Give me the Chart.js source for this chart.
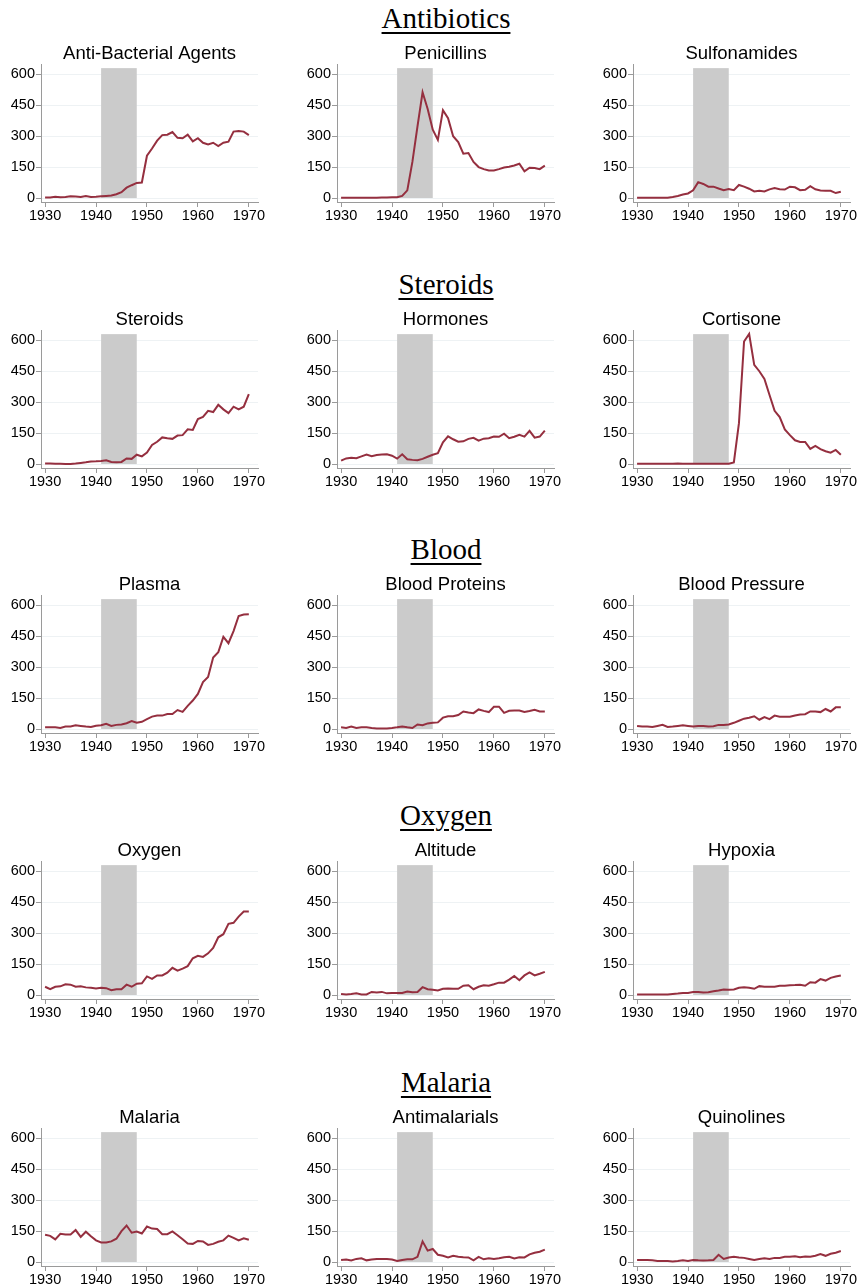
<!DOCTYPE html>
<html>
<head>
<meta charset="utf-8">
<script src="https://cdn.jsdelivr.net/npm/chart.js@4/dist/chart.umd.min.js"></script>
<style>
  html, body { margin: 0; padding: 0; background: #fff; }
  #page { position: relative; width: 859px; height: 1287px; overflow: hidden; }
  .section {
    position: absolute; left: 246px; width: 400px; text-align: center;
    font-family: "Liberation Serif", "Times New Roman", serif;
    font-size: 29px; line-height: 32px; color: #000;
  }
  .section span { text-decoration: underline; text-decoration-thickness: 1.5px; text-underline-offset: 4px; }
  canvas { position: absolute; }
</style>
</head>
<body>
<div id="page"></div>
<script>
// Publication counts per year, 1930–1970
const years = [1930,1931,1932,1933,1934,1935,1936,1937,1938,1939,1940,
               1941,1942,1943,1944,1945,1946,1947,1948,1949,1950,
               1951,1952,1953,1954,1955,1956,1957,1958,1959,1960,
               1961,1962,1963,1964,1965,1966,1967,1968,1969,1970];

const antiBacterial = [3,3,6,4,5,8,7,5,10,5,6, 8,10,12,18,28,50,62,73,75,205, 240,278,305,307,320,292,290,307,275,290, 268,260,268,252,268,273,322,325,322,305];
const penicillins   = [1,1,1,1,1,1,1,1,2,2,4, 4,10,37,175,347,513,432,331,282,426, 387,300,271,215,218,175,150,140,133,133, 140,148,152,158,166,129,147,145,140,157];
const sulfonamides  = [1,1,1,1,1,1,1,5,10,17,22, 37,77,68,55,55,46,38,43,38,63, 55,45,32,35,32,42,48,43,41,55, 52,38,40,57,42,36,35,35,24,30];

const steroids      = [2,2,1,1,0,0,2,5,8,12,13, 15,18,10,8,10,27,25,45,37,55, 92,108,129,125,122,138,140,168,165,218, 228,258,252,287,265,247,278,265,278,339];
const hormones      = [16,27,30,28,37,46,38,44,46,47,40, 26,47,23,20,18,25,35,45,52,105, 134,120,108,110,122,127,113,123,125,133, 132,147,125,132,142,133,161,128,133,162];
const cortisone     = [1,1,1,1,1,1,1,1,2,1,1, 1,1,1,1,1,1,1,1,8,198, 594,631,481,450,413,335,258,228,168,140, 115,107,107,73,88,72,62,55,68,45];

const plasma        = [8,8,8,5,12,12,18,15,12,10,16, 18,25,15,20,22,28,38,30,35,48, 60,65,65,73,73,92,83,112,138,170, 228,252,347,372,447,416,475,548,555,557];
const bloodProteins = [8,5,12,5,8,8,5,3,3,3,5, 8,12,8,5,22,18,27,30,32,55, 62,62,68,85,80,77,95,88,82,108, 108,78,88,90,90,83,87,93,85,85];
const bloodPressure = [15,12,12,10,15,20,10,12,15,18,15, 12,15,15,12,13,20,20,22,30,40, 50,55,62,45,58,48,65,60,60,60, 65,70,72,85,85,82,97,85,105,105];

const oxygen        = [40,28,40,42,52,50,40,42,37,35,32, 35,33,23,28,28,50,40,55,57,90, 78,95,95,108,132,118,128,140,178,190, 185,202,228,280,295,345,350,380,405,405];
const altitude      = [5,3,5,8,3,3,15,12,15,8,10, 10,10,17,13,15,38,28,25,22,30, 32,30,30,45,47,28,40,47,45,52, 60,60,75,92,72,95,110,95,103,112];
const hypoxia       = [2,2,3,2,2,2,3,5,7,10,10, 15,15,12,13,18,22,27,25,27,35, 38,35,30,43,40,40,40,45,45,47, 48,50,45,62,60,77,70,83,90,95];

const malaria       = [132,127,110,137,133,133,155,122,147,125,105, 95,95,100,113,150,177,142,148,138,172, 162,160,135,135,148,130,110,90,88,102, 100,83,88,98,105,128,117,105,115,108];
const antimalarials = [10,12,7,15,18,8,12,15,15,15,12, 5,10,13,13,25,100,55,63,35,30, 22,30,25,23,22,8,25,13,18,15, 18,23,25,17,23,22,37,45,50,60];
const quinolines    = [10,10,10,8,5,5,5,3,5,8,5, 10,8,7,8,10,35,15,22,25,22, 20,15,10,15,18,15,20,20,25,25, 28,23,27,25,30,38,30,40,45,53];

const sectionTitles = ['Antibiotics', 'Steroids', 'Blood', 'Oxygen', 'Malaria'];
const panelTitles = [
  ['Anti-Bacterial Agents', 'Penicillins', 'Sulfonamides'],
  ['Steroids', 'Hormones', 'Cortisone'],
  ['Plasma', 'Blood Proteins', 'Blood Pressure'],
  ['Oxygen', 'Altitude', 'Hypoxia'],
  ['Malaria', 'Antimalarials', 'Quinolines']
];
const panelSeries = [
  [antiBacterial, penicillins, sulfonamides],
  [steroids, hormones, cortisone],
  [plasma, bloodProteins, bloodPressure],
  [oxygen, altitude, hypoxia],
  [malaria, antimalarials, quinolines]
];

const xTicks = [1930, 1940, 1950, 1960, 1970];
const yTicks = [0, 150, 300, 450, 600];

// War-years shaded band
const BAND_START = 1941, BAND_END = 1948, BAND_TOP = 630;

// Page layout
const ROW_TOP = [0, 266, 531, 797, 1064];
const COL_LEFT = [0, 296, 592];
const CANVAS_W = 270, CANVAS_H = 195;
const TITLE_SPACE = 34;
const LINE_COLOR = '#952f3f';
const AXIS_COLOR = '#9a9a9a';
const GRID_COLOR = '#eef2f4';
const SANS = '"Liberation Sans", Arial, sans-serif';

const bandPlugin = {
  id: 'warBand',
  beforeDatasetsDraw(chart) {
    const { ctx, scales: { x, y } } = chart;
    const x0 = x.getPixelForValue(BAND_START);
    const x1 = x.getPixelForValue(BAND_END);
    const yBase = y.getPixelForValue(0);
    const yTop = y.getPixelForValue(BAND_TOP);
    ctx.save();
    ctx.fillStyle = '#cbcbcb';
    ctx.fillRect(x0, yTop, x1 - x0, yBase - yTop);
    ctx.restore();
  }
};

// Panel title centred over the plot area (not the whole canvas)
const panelTitlePlugin = {
  id: 'panelTitle',
  afterDraw(chart, args, opts) {
    const { ctx, chartArea } = chart;
    ctx.save();
    ctx.fillStyle = '#000';
    ctx.font = '18.5px ' + SANS;
    ctx.textAlign = 'center';
    ctx.textBaseline = 'middle';
    ctx.fillText(opts.text, (chartArea.left + chartArea.right) / 2, 23.5);
    ctx.restore();
  }
};

const page = document.getElementById('page');

sectionTitles.forEach((name, r) => {
  const d = document.createElement('div');
  d.className = 'section';
  d.style.top = (ROW_TOP[r] + 2) + 'px';
  const s = document.createElement('span');
  s.textContent = name;
  d.appendChild(s);
  page.appendChild(d);
});

panelTitles.forEach((row, r) => {
  row.forEach((title, c) => {
    const cv = document.createElement('canvas');
    cv.width = CANVAS_W; cv.height = CANVAS_H;
    cv.style.width = CANVAS_W + 'px'; cv.style.height = CANVAS_H + 'px';
    cv.style.left = COL_LEFT[c] + 'px';
    cv.style.top = (ROW_TOP[r] + 30) + 'px';
    page.appendChild(cv);

    const values = panelSeries[r][c];
    new Chart(cv, {
      type: 'line',
      data: {
        datasets: [{
          data: years.map((yr, i) => ({ x: yr, y: values[i] })),
          borderColor: LINE_COLOR,
          borderWidth: 2,
          pointRadius: 0,
          tension: 0,
          fill: false
        }]
      },
      options: {
        responsive: false,
        devicePixelRatio: 1,
        animation: false,
        layout: { padding: { left: 0, right: 12, top: TITLE_SPACE, bottom: 0 } },
        plugins: {
          legend: { display: false },
          tooltip: { enabled: false },
          title: { display: false },
          panelTitle: { text: title }
        },
        scales: {
          x: {
            type: 'linear',
            min: 1929.2, max: 1971.8,
            afterBuildTicks: s => { s.ticks = xTicks.map(v => ({ value: v })); },
            afterFit: s => { s.height = 23; },
            ticks: {
              color: '#000',
              font: { family: SANS, size: 14.5 },
              padding: 0,
              maxRotation: 0,
              callback: v => String(v)
            },
            grid: { drawOnChartArea: false, drawTicks: true, tickLength: 5, tickColor: AXIS_COLOR },
            border: { display: true, color: AXIS_COLOR, width: 1 }
          },
          y: {
            min: -19.4, max: 650,
            afterBuildTicks: s => { s.ticks = yTicks.map(v => ({ value: v })); },
            afterFit: s => { s.width = 41; },
            ticks: {
              color: '#000',
              font: { family: SANS, size: 14.5 },
              padding: 1,
              callback: v => String(v)
            },
            grid: { color: GRID_COLOR, drawTicks: true, tickLength: 5, tickColor: AXIS_COLOR },
            border: { display: true, color: AXIS_COLOR, width: 1 }
          }
        }
      },
      plugins: [bandPlugin, panelTitlePlugin]
    });
  });
});
</script>
</body>
</html>
